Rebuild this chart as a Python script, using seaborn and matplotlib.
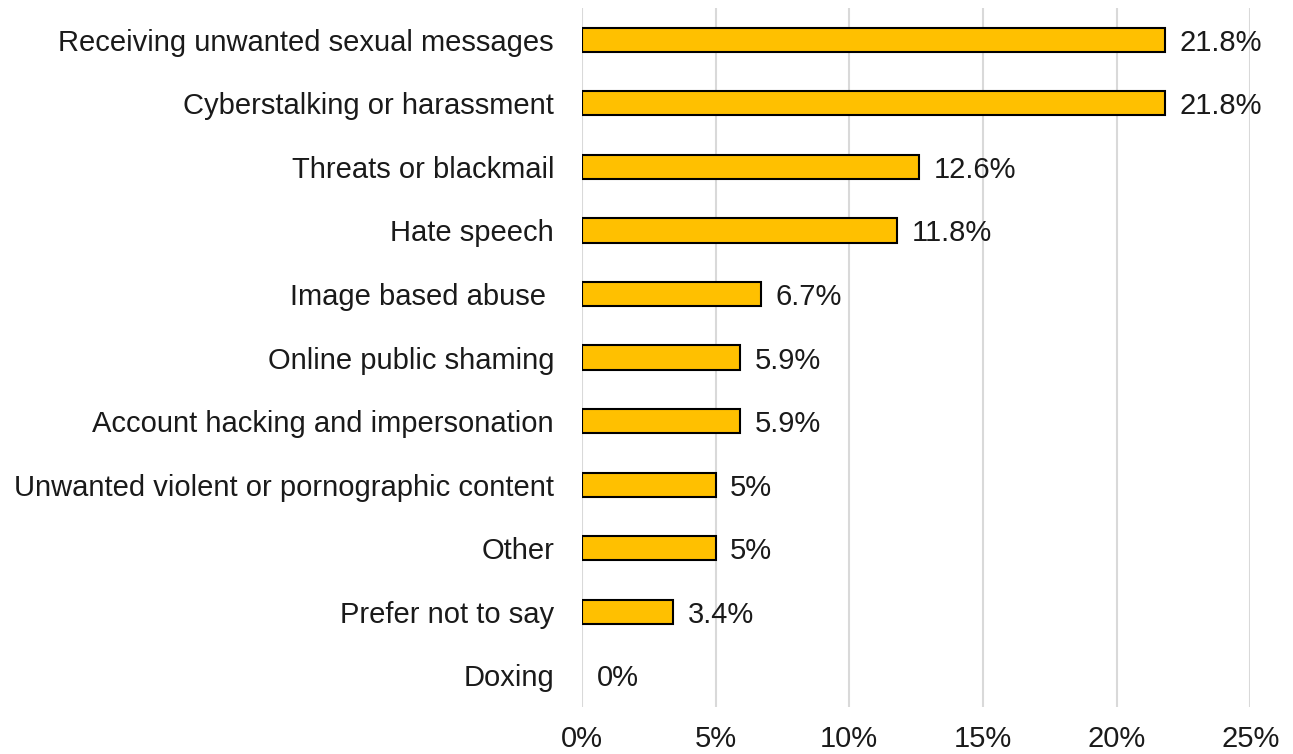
import matplotlib
matplotlib.use("Agg")
import matplotlib.pyplot as plt
import seaborn as sns
import pandas as pd
from matplotlib.ticker import FuncFormatter

categories = [
    "Receiving unwanted sexual messages",
    "Cyberstalking or harassment",
    "Threats or blackmail",
    "Hate speech",
    "Image based abuse ",
    "Online public shaming",
    "Account hacking and impersonation",
    "Unwanted violent or pornographic content",
    "Other",
    "Prefer not to say",
    "Doxing",
]
values = [21.8, 21.8, 12.6, 11.8, 6.7, 5.9, 5.9, 5, 5, 3.4, 0]
value_labels = ["21.8%", "21.8%", "12.6%", "11.8%", "6.7%", "5.9%", "5.9%", "5%", "5%", "3.4%", "0%"]
x_ticks = [0, 5, 10, 15, 20, 25]

sns.set_theme(style="white")
plt.rcParams["font.family"] = ["Liberation Sans", "DejaVu Sans"]

df = pd.DataFrame({"category": categories, "value": values})

fig = plt.figure(figsize=(12.93, 7.54), dpi=100)
ax = fig.add_axes([0.450, 0.0623, 0.517, 0.927])

sns.barplot(data=df, y="category", x="value", orient="h", color="#FFC000",
            edgecolor="black", linewidth=1.5, width=0.38, saturation=1, ax=ax)
for p in ax.patches:
    if p.get_width() == 0:
        p.set_linewidth(0)

for i, (v, lab) in enumerate(zip(values, value_labels)):
    ax.text(v + 0.55, i, lab, va="center_baseline", ha="left", fontsize=21, color="#1a1a1a")

ax.set_xlim(0, 25)
ax.set_ylim(len(categories) - 0.5, -0.5)
ax.set_xticks(x_ticks)
ax.xaxis.set_major_formatter(FuncFormatter(lambda x, p: f"{int(x)}%"))
ax.grid(axis="x", color="#d9d9d9", linewidth=1.5)
ax.grid(axis="y", visible=False)
ax.set_axisbelow(True)
for s in ax.spines.values():
    s.set_visible(False)
ax.tick_params(axis="x", length=0, pad=13, labelsize=21, labelcolor="#1a1a1a")
ax.tick_params(axis="y", length=0, pad=20, labelsize=21, labelcolor="#1a1a1a")
ax.set_xlabel("")
ax.set_ylabel("")

fig.savefig("out.png", dpi=100)
